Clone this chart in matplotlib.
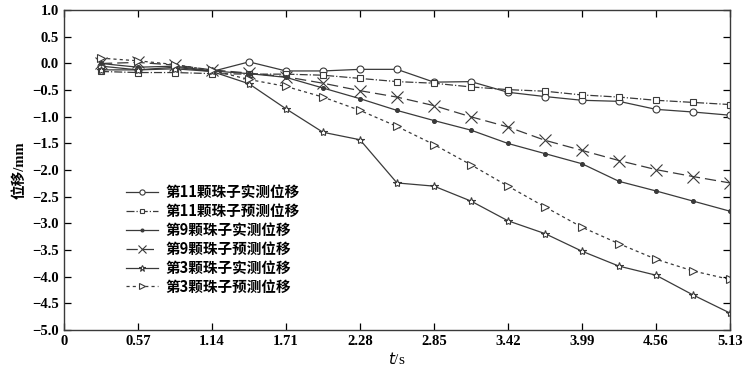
import matplotlib.pyplot as plt
import numpy as np

plt.rcParams["font.family"] = ["Liberation Serif", "Noto Sans CJK SC"]
plt.rcParams["axes.unicode_minus"] = True

# 时间 (s)
t = np.arange(1, 19) * 0.285

bead11_meas = [-0.05, -0.12, -0.07, -0.15, 0.03, -0.14, -0.14, -0.11, -0.11, -0.35,
               -0.34, -0.54, -0.62, -0.69, -0.71, -0.86, -0.91, -0.97]
bead11_pred = [-0.15, -0.17, -0.17, -0.19, -0.2, -0.2, -0.22, -0.28, -0.34, -0.37,
               -0.44, -0.49, -0.52, -0.59, -0.63, -0.69, -0.73, -0.77]
bead9_meas = [0.0, -0.07, -0.05, -0.14, -0.19, -0.26, -0.46, -0.66, -0.88, -1.07,
              -1.25, -1.50, -1.69, -1.88, -2.21, -2.39, -2.58, -2.77]
bead9_pred = [0.0, 0.02, -0.03, -0.12, -0.18, -0.25, -0.37, -0.51, -0.63, -0.79,
              -1.0, -1.19, -1.44, -1.63, -1.82, -1.99, -2.12, -2.24]
bead3_meas = [-0.12, -0.12, -0.1, -0.15, -0.38, -0.85, -1.29, -1.43, -2.24, -2.30,
              -2.58, -2.95, -3.19, -3.52, -3.80, -3.97, -4.34, -4.68]
bead3_pred = [0.1, 0.05, -0.02, -0.13, -0.3, -0.43, -0.63, -0.88, -1.18, -1.52,
              -1.90, -2.30, -2.69, -3.07, -3.38, -3.67, -3.89, -4.05]

labels = ["第11颗珠子实测位移", "第11颗珠子预测位移", "第9颗珠子实测位移",
          "第9颗珠子预测位移", "第3颗珠子实测位移", "第3颗珠子预测位移"]

xticks = [0, 0.57, 1.14, 1.71, 2.28, 2.85, 3.42, 3.99, 4.56, 5.13]
yticks = np.arange(-5.0, 1.01, 0.5)

c = "#3a3a3a"
fig = plt.figure(figsize=(7.5, 3.76), dpi=100)
ax = fig.add_axes([0.0853, 0.122, 0.888, 0.851])

kw = dict(color=c, lw=0.9, markersize=5, markerfacecolor="white", markeredgecolor=c,
          markeredgewidth=0.8)
ax.plot(t, bead11_meas, "-", marker="o", label=labels[0], **kw)
ax.plot(t, bead11_pred, "-.", marker="s", label=labels[1], **{**kw, "markersize": 4.5})
ax.plot(t, bead9_meas, "-", marker="o", label=labels[2],
        **{**kw, "markersize": 2.8, "markerfacecolor": c})
ax.plot(t, bead9_pred, marker="x", dashes=(9, 4), label=labels[3],
        **{**kw, "markersize": 8.5})
ax.plot(t, bead3_meas, "-", marker="*", label=labels[4], **{**kw, "markersize": 6})
ax.plot(t, bead3_pred, marker=">", dashes=(2.5, 2.5), label=labels[5],
        **{**kw, "markersize": 5.5})

ax.set_xlim(0, 5.13)
ax.set_ylim(-5.0, 1.0)
ax.set_xticks(xticks)
ax.set_xticklabels([f"{v:g}" if v else "0" for v in xticks])
ax.set_yticks(yticks)
ax.set_yticklabels([f"{v:.1f}".replace("-", "\u2212") for v in yticks])
ax.tick_params(direction="in", top=True, right=True, labelsize=10.5, length=5,
               width=0.9, colors="black")
for s in ax.spines.values():
    s.set_linewidth(1.0)
    s.set_color(c)
for lab in ax.get_xticklabels() + ax.get_yticklabels():
    lab.set_fontweight("bold")

ax.set_xlabel("$\\mathit{t}$/s", fontsize=11, labelpad=2)
ax.set_ylabel("位移/mm", fontsize=10.5, labelpad=4, fontweight="bold")

leg = ax.legend(loc="upper left", bbox_to_anchor=(0.158, 0.53),
                bbox_transform=fig.transFigure, frameon=False,
                handlelength=2.2, labelspacing=0.2, borderpad=0, handletextpad=0.5,
                markerscale=0.75,
                prop={"family": ["Noto Sans CJK SC"], "weight": "bold", "size": 10.5})

fig.savefig("out.png", dpi=100)
